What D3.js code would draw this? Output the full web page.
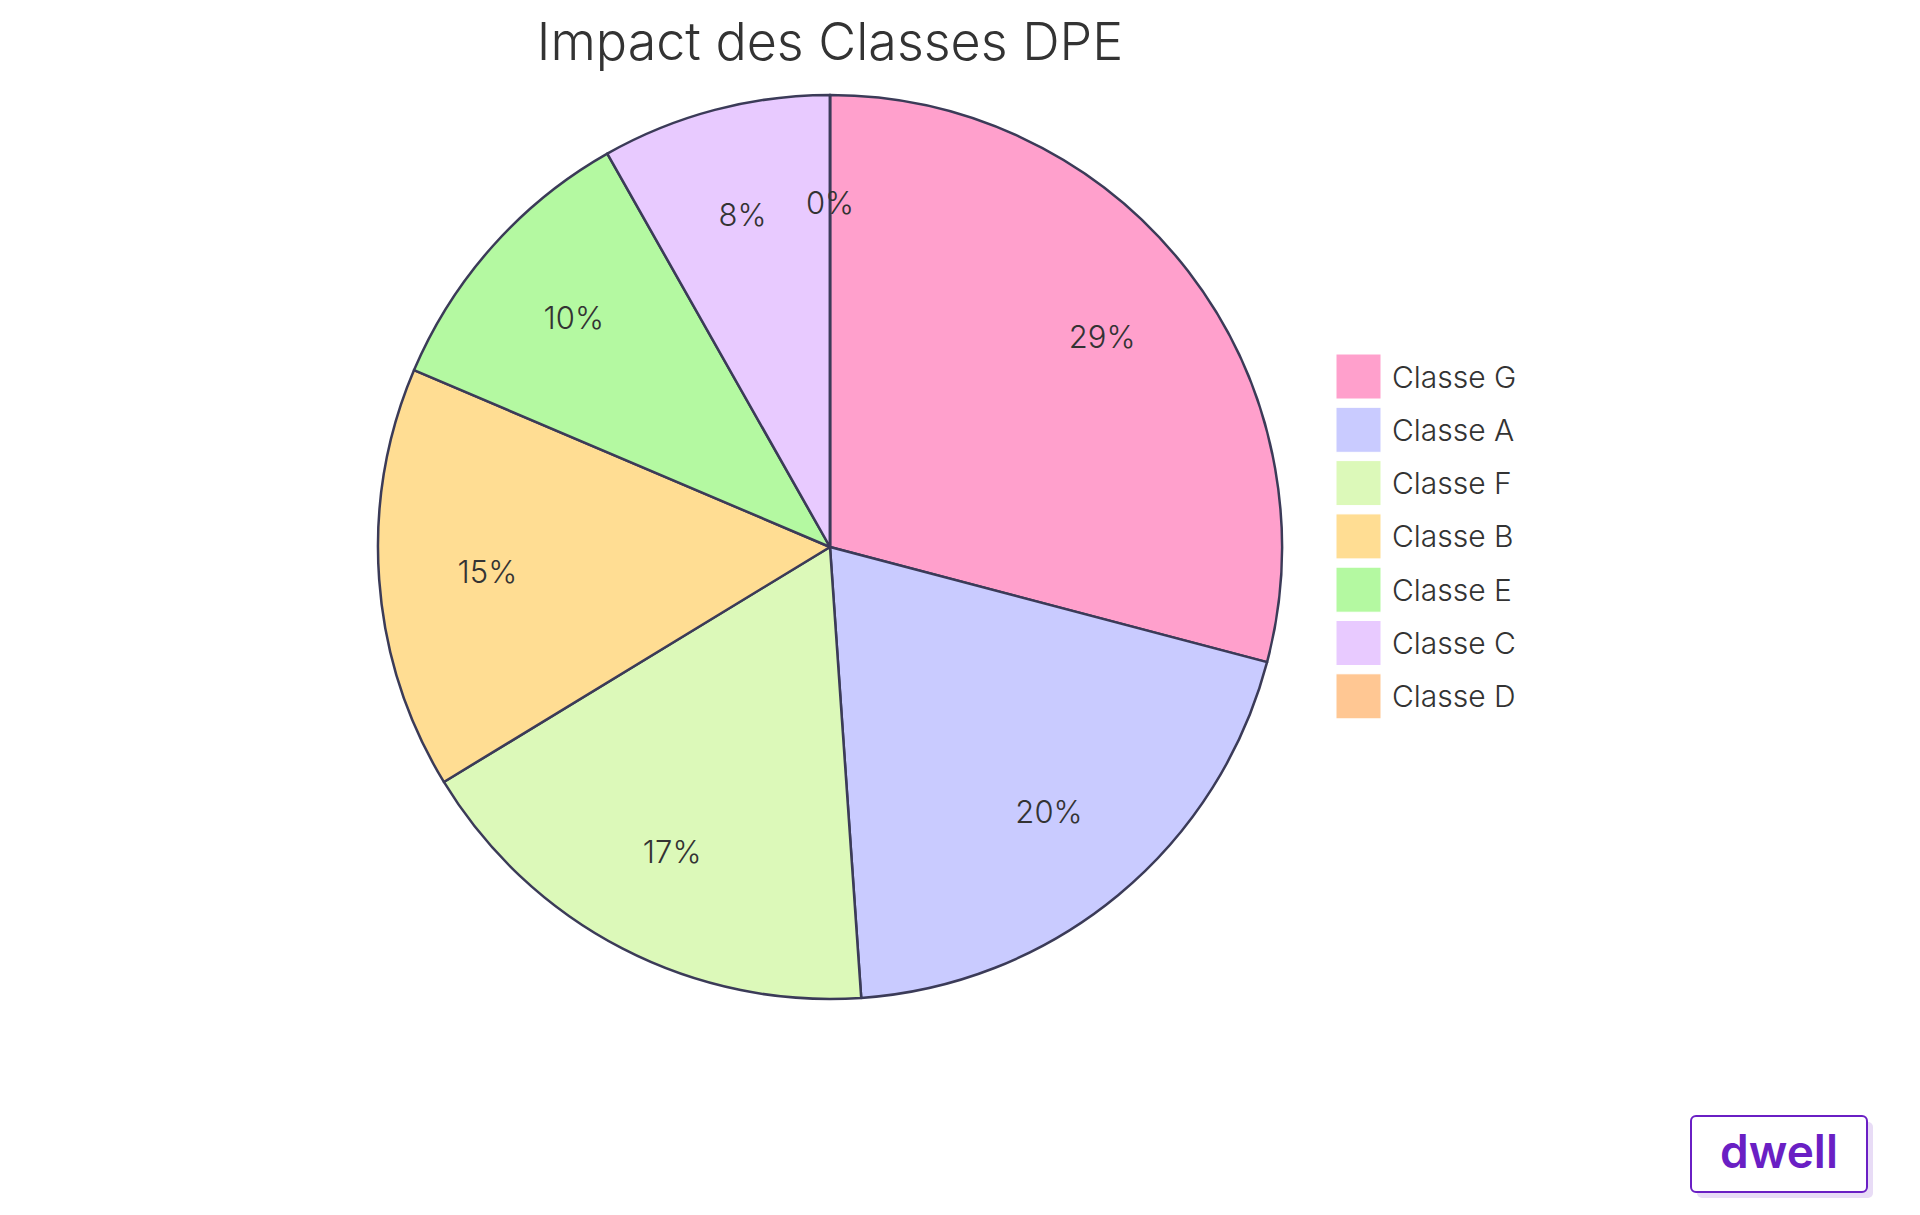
<!DOCTYPE html>
<html><head><meta charset="utf-8">
<script src="https://cdn.jsdelivr.net/npm/d3@7"></script>
<style>body{margin:0;background:#fff}text{font-family:Inter,"Noto Sans",sans-serif}</style>
</head><body><svg id="chart" width="1920" height="1215"></svg>
<script>
const categories = ["Classe G", "Classe A", "Classe F", "Classe B", "Classe E", "Classe C", "Classe D"]
const values = [29.1, 19.8, 17.4, 15.1, 10.4, 8.2, 0]
const colors = ["#ffa0cc", "#c9cbff", "#dcf9b9", "#ffdd93", "#b4f9a1", "#e8caff", "#ffc793"]

const svg = d3.select("#chart")
const cx = 830, cy = 547, r = 452

svg.append("text").attr("x", cx).attr("y", 60).attr("text-anchor", "middle")
  .attr("font-size", 52).attr("font-weight", 300).attr("fill", "#333").text("Impact des Classes DPE")

const total = d3.sum(values)
const pie = d3.pie().sort(null).value(d => d)
const arcs = pie(values)
const arc = d3.arc().innerRadius(0).outerRadius(r)
const labelArc = d3.arc().innerRadius(r * 0.76).outerRadius(r * 0.76)

const g = svg.append("g").attr("transform", `translate(${cx},${cy})`)
g.selectAll("path").data(arcs).enter().append("path")
  .attr("d", arc).attr("fill", (d, i) => colors[i])
  .attr("stroke", "#3b3b58").attr("stroke-width", 2.5).attr("stroke-linejoin", "round")
g.selectAll("text.lbl").data(arcs).enter().append("text").attr("class", "lbl")
  .attr("transform", d => `translate(${labelArc.centroid(d)})`)
  .attr("text-anchor", "middle").attr("dy", "0.35em")
  .attr("font-size", 31).attr("font-weight", 300).attr("fill", "#333")
  .text(d => Math.round(d.data / total * 100) + "%")

const leg = svg.append("g").attr("transform", "translate(1336,354)")
const rows = leg.selectAll("g").data(categories).enter().append("g")
  .attr("transform", (d, i) => `translate(0,${i * 53.3})`)
rows.append("rect").attr("width", 45).attr("height", 45).attr("fill", (d, i) => colors[i])
  .attr("stroke", "#fff").attr("stroke-width", 1)
rows.append("text").attr("x", 56).attr("y", 23).attr("dy", "0.35em")
  .attr("font-size", 30).attr("font-weight", 300).attr("fill", "#333").text(d => d)

// logo
const logo = svg.append("g")
logo.append("rect").attr("x", 1697).attr("y", 1122).attr("width", 176).attr("height", 76).attr("rx", 5).attr("fill", "#e8dcf6")
logo.append("rect").attr("x", 1691).attr("y", 1116).attr("width", 176).attr("height", 76).attr("rx", 5)
  .attr("fill", "#fff").attr("stroke", "#6a1fc4").attr("stroke-width", 2)
logo.append("text").attr("x", 1779).attr("y", 1168).attr("text-anchor", "middle")
  .attr("font-size", 46).attr("font-weight", 600).attr("fill", "#6a1fc4").text("dwell")
</script></body></html>
